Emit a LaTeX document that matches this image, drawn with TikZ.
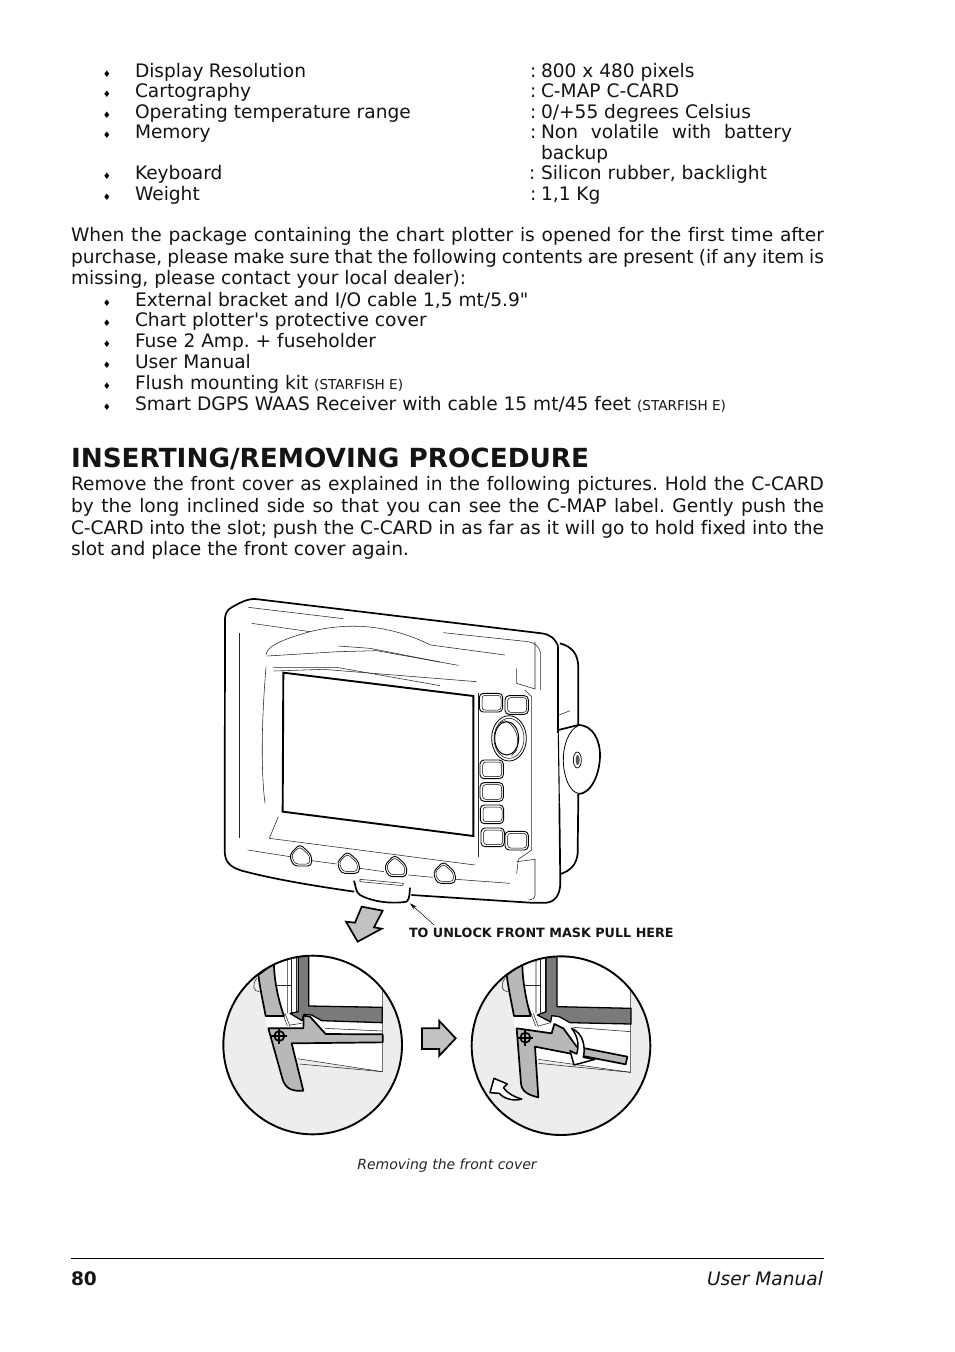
\documentclass[tikz,border=0pt]{standalone}
\usepackage{fontspec}
\setmainfont[Ligatures=NoCommon]{DejaVu Sans}
\newfontfamily\plainfont{DejaVu Sans}
\usetikzlibrary{arrows.meta}
\frenchspacing
\newcommand{\bodyfont}{\fontsize{18.6}{21}\selectfont}
\newcommand{\capsfont}{\fontsize{13.6}{15}\selectfont}
\tikzset{
 txt/.style={anchor=base west,inner sep=0pt,outer sep=0pt,text=black!92,font=\bodyfont},
 bulletmark/.style={anchor=base,inner sep=0pt,font=\fontsize{9}{10}\selectfont},
 thin line/.style={line width=0.55pt,black!85},
 outline/.style={line width=1.7pt,black,line join=round},
 screenline/.style={line width=1.9pt,black,line join=miter},
 lens/.style={line width=1.9pt,black,fill=black!7},
 lever/.style={line width=1.7pt,black,fill=black!28,line join=round},
 darkpart/.style={line width=1.3pt,black,fill=black!52,line join=round},
 bigarrow/.style={line width=1.7pt,black,fill=black!24,line join=miter},
 whitearrow/.style={line width=1.5pt,black,fill=white,line join=round},
 zoomone/.style={xshift=210pt,yshift=-590pt,x=0.33333pt,y=-0.33333pt},
 zoomtwo/.style={xshift=210pt,yshift=-900pt,x=0.33333pt,y=-0.33333pt},
 zoomthree/.style={xshift=420pt,yshift=-900pt,x=0.33333pt,y=-0.33333pt},
}
\newcommand{\bul}[1]{\node[bulletmark] (b#1) at (107,#1) {♦};}
\newcommand{\keybtn}[2]{\begin{scope}[shift={(#1,#2)}]
 \draw[line width=0.9pt,rounded corners=4pt] (-35,-28) rectangle (35,28);
 \draw[line width=0.5pt,rounded corners=3pt] (-27,-22) rectangle (30,22);
\end{scope}}
\newcommand{\softbtn}[2]{\begin{scope}[shift={(#1,#2)}]
 \draw[line width=0.9pt,rounded corners=4pt] (-3,-38) -- (33,-5) -- (33,28) -- (-22,28) -- (-34,-5) -- cycle;
 \draw[line width=0.5pt,rounded corners=3pt] (-3,-30) -- (27,-3) -- (27,22) -- (-17,22) -- (-28,-5) -- cycle;
\end{scope}}
\begin{document}
\begin{tikzpicture}[x=1pt,y=-1pt]
\useasboundingbox (0,0) rectangle (954,1352);
\fill[white] (0,0) rectangle (954,1352);

% spec list
\bul{77}\bul{97}\bul{118}\bul{138}\bul{179}\bul{200}
\node[txt] (s1) at (135,77) {\makebox[171pt][s]{Display Resolution}};
\node[txt] (s2) at (135,97) {Cartography};
\node[txt] (s3) at (135,118) {Operating temperature range};
\node[txt] (s4) at (135,138) {Memory};
\node[txt] (s5) at (135,179) {Keyboard};
\node[txt] (s6) at (135,200) {Weight};
\node[txt] (v1c) at (530,77) {:};
\node[txt] (v1) at (541,77) {800 x 480 pixels};
\node[txt] (v2c) at (530,97) {:};
\node[txt] (v2) at (541,97) {C-MAP C-CARD};
\node[txt] (v3c) at (530,118) {:};
\node[txt] (v3) at (541,118) {0/+55 degrees Celsius};
\node[txt] (v4c) at (530,138) {:};
\node[txt] (v4) at (541,138) {\makebox[251pt][s]{Non volatile with battery}};
\node[txt] (v4b) at (541,159) {backup};
\node[txt] (v5c) at (529,179) {:};
\node[txt] (v5) at (541,179) {Silicon rubber, backlight};
\node[txt] (v6c) at (530,200) {:};
\node[txt] (v6) at (541,200) {1,1 Kg};

% paragraph 1
\node[txt] (p1) at (71,241) {\makebox[753pt][s]{When the package containing the chart plotter is opened for the first time after}};
\node[txt] (p2) at (71,263) {\makebox[753pt][s]{purchase, please make sure that the following contents are present (if any item is}};
\node[txt] (p3) at (71,284) {missing, please contact your local dealer):};

% contents list
\bul{306}\bul{326}\bul{347}\bul{368}\bul{389}\bul{410}
\node[txt] (c1) at (135,306) {External bracket and I/O cable 1,5 mt/5.9{\plainfont "}};
\node[txt] (c2) at (135,326) {Chart plotter{\plainfont '}s protective cover};
\node[txt] (c3) at (135,347) {Fuse 2 Amp. + fuseholder};
\node[txt] (c4) at (135,368) {User Manual};
\node[txt] (c5) at (135,389) {Flush mounting kit {\capsfont (STARFISH E)}};
\node[txt] (c6) at (135,410) {Smart DGPS WAAS Receiver with cable 15 mt/45 feet {\capsfont (STARFISH E)}};

% heading
\node[txt,font=\fontsize{26.3}{30}\selectfont\bfseries] (head) at (71,467) {INSERTING/REMOVING PROCEDURE};

% paragraph 2
\node[txt] (q1) at (71,490) {\makebox[753pt][s]{Remove the front cover as explained in the following pictures. Hold the C-CARD}};
\node[txt] (q2) at (71,512) {\makebox[753pt][s]{by the long inclined side so that you can see the C-MAP label. Gently push the}};
\node[txt] (q3) at (71,534) {\makebox[753pt][s]{C-CARD into the slot; push the C-CARD in as far as it will go to hold fixed into the}};
\node[txt] (q4) at (71,555) {slot and place the front cover again.};

% ---------- chart plotter ----------
\begin{scope}[zoomone]
 % rear housing
 \draw[outline] (1050,160) .. controls (1085,170) and (1105,190) .. (1105,235) -- (1105,405);
 \draw[outline] (1105,612) -- (1103,790) .. controls (1100,825) and (1080,842) .. (1052,852);
 \draw[thin line] (1047,375) -- (1080,362);
 % mount knob
 \draw[outline] (1045,420) -- (1105,405) .. controls (1150,405) and (1172,455) .. (1170,500) .. controls (1168,560) and (1140,612) .. (1105,612);
 \draw[line width=0.8pt] (1105,407) .. controls (1075,420) and (1058,470) .. (1060,515) .. controls (1062,565) and (1080,605) .. (1105,610);
 \draw[line width=0.7pt] (1102,510) ellipse [x radius=12,y radius=24];
 \fill[black!65] (1103,510) ellipse [x radius=6,y radius=15];
 % front shell
 \draw[outline] (1045,170) .. controls (1035,145) and (1020,133) .. (995,130) -- (145,28) .. controls (120,24) and (100,32) .. (65,52) .. controls (50,60) and (44,72) .. (45,95) -- (44,780) .. controls (44,815) and (58,830) .. (95,842) .. controls (200,870) and (330,890) .. (433,905) ;
 \draw[outline] (432,872) .. controls (438,890) and (436,905) .. (450,915) .. controls (490,937) and (550,942) .. (590,935) .. controls (600,925) and (598,910) .. (600,893);
 \draw[outline] (604,915) -- (960,938) -- (1010,938) .. controls (1035,935) and (1050,915) .. (1051,880) -- (1048,640);
 \draw[outline] (1045,430) -- (1045,170);
 \draw[line width=1.1pt] (1048,640) -- (1045,430);
 % inner contour lines
 \draw[thin line] (115,52) -- (400,86);
 \draw[thin line] (125,100) -- (300,125);
 \draw[thin line] (168,195) .. controls (170,170) and (210,150) .. (300,125) .. controls (420,95) and (540,105) .. (662,165) -- (885,195);
 \draw[thin line] (700,128) -- (955,155) .. controls (975,158) and (988,170) .. (992,190) -- (992,300);
 \draw[thin line] (172,198) -- (385,185) -- (500,182) -- (745,226);
 \draw[thin line] (385,168) -- (480,175) -- (690,216);
 \draw[thin line] (190,232) -- (380,232) -- (690,287);
 \draw[thin line] (192,243) -- (340,238) -- (800,275);
 \draw[thin line] (88,130) -- (88,745);
 \draw[thin line] (168,232) .. controls (158,350) and (150,520) .. (165,640);
 \draw[thin line] (205,680) -- (178,745) -- (795,825);
 \draw[thin line] (113,780) -- (240,800);
 \draw[thin line] (305,812) -- (380,822);
 \draw[thin line] (450,835) -- (522,845);
 \draw[thin line] (595,855) -- (668,862);
 \draw[thin line] (738,868) -- (900,880);
 \draw[thin line] (920,235) -- (920,280) -- (975,297) -- (975,155);
 \draw[thin line] (805,310) -- (805,800);
 \draw[thin line] (945,300) -- (965,320) -- (965,780) -- (925,808) -- (920,850);
 \draw[thin line] (920,815) -- (975,808) -- (975,915) .. controls (975,925) and (965,930) .. (955,930);
 \draw[thin line] (450,868) -- (580,880) -- (578,887) -- (450,875) -- cycle;
 % screen
 \draw[screenline] (220,248) -- (790,318) -- (790,738) -- (218,665) -- cycle;
 % keys
 \keybtn{843}{338}\keybtn{920}{345}
 \keybtn{845}{538}\keybtn{845}{606}\keybtn{846}{673}\keybtn{848}{742}\keybtn{920}{752}
 \draw[line width=0.8pt] (897,445) ellipse [x radius=52,y radius=68];
 \draw[line width=0.5pt] (897,445) ellipse [x radius=45,y radius=60];
 \draw[line width=1pt] (890,445) ellipse [x radius=36,y radius=50];
 \draw[line width=0.5pt] (870,398) -- (885,392) .. controls (915,405) and (930,440) .. (920,480) -- (905,497);
 \softbtn{272}{800}\softbtn{415}{822}\softbtn{557}{832}\softbtn{703}{852}
 % leader
 \coordinate (tabtip) at (600,940);
 \coordinate (leaderstart) at (672,1005);
\end{scope}

\node[txt,font=\fontsize{12.75}{14}\selectfont\bfseries] (unlock) at (409,937) {TO UNLOCK FRONT MASK PULL HERE};
\draw[line width=0.5pt,-{Stealth[length=7pt,width=4pt]}] (leaderstart) -- (tabtip);

% ---------- left detail ----------
\begin{scope}[zoomtwo]
 \draw[bigarrow] (455,20) -- (518,32) -- (492,82) -- (515,86) -- (443,125) -- (408,65) -- (435,68) -- cycle;
 \begin{scope}
  \clip (308,435) circle [radius=268];
  \fill[black!7] (0,150) rectangle (600,720);
  \fill[white] (145,150) -- (517,150) -- (517,515) -- (262,478) -- (170,385) -- (165,345) -- cycle;
  \draw[thin line] (517,270) -- (517,515) -- (262,476);
  \draw[thin line] (268,492) -- (517,515);
  \draw[thin line] (345,385) -- (517,393);
  \draw[thin line] (195,190) -- (232,180) -- (232,340);
  \draw[thin line] (245,170) -- (245,340);
  \draw[thin line] (260,165) -- (260,338);
  \draw[thin line] (196,255) -- (245,255);
  \draw[thin line] (210,318) -- (232,378);
  \draw[thin line] (225,340) -- (240,380);
  \draw[thin line] (240,375) -- (275,370);
  \draw[thin line] (140,235) .. controls (125,255) and (130,275) .. (148,275);
  \draw[lever] (145,225) -- (192,190) .. controls (192,240) and (205,300) .. (222,348) -- (167,348) .. controls (160,310) and (150,265) .. (145,225) -- cycle;
  \draw[darkpart] (265,160) -- (296,160) -- (296,318) -- (517,322) -- (517,368) -- (335,362) -- (305,345) -- (282,343) -- (276,362) -- (240,340) -- (265,335) -- cycle;
 \end{scope}
 \draw[lever] (175,385) -- (280,385) -- (281,347) -- (300,350) -- (347,402) -- (518,403) -- (518,427) -- (245,430) -- (280,572) .. controls (245,575) and (225,565) .. (217,535) -- cycle;
 \draw[line width=1.7pt] (208,408) circle [radius=15];
 \draw[line width=1.7pt] (184,408) -- (232,408) (208,384) -- (208,432);
 \draw[lens,fill=none] (308,435) circle [radius=268];
\end{scope}

% ---------- middle arrow ----------
\begin{scope}[zoomthree]
 \draw[bigarrow] (6,385) -- (58,385) -- (58,363) -- (107,415) -- (58,467) -- (58,447) -- (6,447) -- cycle;
\end{scope}

% ---------- right detail ----------
\begin{scope}[zoomthree]
 \begin{scope}
  \clip (423,437) circle [radius=268];
  \fill[black!7] (100,150) rectangle (720,720);
  \fill[white] (260,150) -- (632,150) -- (632,517) -- (355,480) -- (285,385) -- (280,345) -- cycle;
  \draw[thin line] (632,270) -- (632,517) -- (355,478);
  \draw[thin line] (355,490) -- (632,517);
  \draw[thin line] (460,382) -- (632,395);
  \draw[thin line] (310,190) -- (348,180) -- (348,340);
  \draw[thin line] (360,170) -- (360,340);
  \draw[thin line] (375,165) -- (375,338);
  \draw[thin line] (311,255) -- (360,255);
  \draw[thin line] (325,318) -- (347,378);
  \draw[thin line] (340,340) -- (355,380);
  \draw[thin line] (355,378) -- (392,368);
  \draw[thin line] (255,235) .. controls (240,255) and (245,275) .. (263,275);
  \draw[lever] (260,225) -- (307,190) .. controls (307,240) and (318,300) .. (332,348) -- (282,348) .. controls (275,310) and (265,265) .. (260,225) -- cycle;
  \draw[darkpart] (378,160) -- (411,160) -- (411,320) -- (633,325) -- (633,372) -- (450,368) -- (418,350) -- (395,347) -- (392,366) -- (352,345) -- (378,335) -- cycle;
 \end{scope}
 \draw[lever] (290,385) -- (395,400) -- (403,372) -- (430,385) -- (470,440) -- (622,470) -- (617,493) -- (345,440) -- (355,592) .. controls (325,585) and (305,575) .. (303,550) -- cycle;
 \draw[line width=1.7pt] (316,413) circle [radius=15];
 \draw[line width=1.7pt] (292,413) -- (340,413) (316,389) -- (316,437);
 \draw[whitearrow] (455,385) .. controls (490,400) and (497,440) .. (490,472) -- (525,478) -- (462,495) -- (450,452) -- (470,462) .. controls (480,430) and (470,405) .. (455,385) -- cycle;
 \draw[lens,fill=none] (423,437) circle [radius=268];
 \draw[whitearrow] (305,597) .. controls (280,605) and (250,595) .. (238,580) -- (210,578) -- (222,535) -- (262,552) -- (250,563) .. controls (262,580) and (285,592) .. (305,597) -- cycle;
\end{scope}

\node[anchor=base,inner sep=0pt,font=\fontsize{14}{16}\selectfont\itshape,text=black!85] (cap) at (447,1169) {Removing the front cover};

% footer
\coordinate (ruleL) at (71,1258);
\coordinate (ruleR) at (824,1258);
\draw[line width=0.8pt] (ruleL) -- (ruleR);
\node[txt,font=\bodyfont\bfseries] (pg) at (71,1285) {80};
\node[txt,anchor=base east,font=\bodyfont\itshape] (um) at (823,1285) {User Manual};
\end{tikzpicture}
\end{document}
